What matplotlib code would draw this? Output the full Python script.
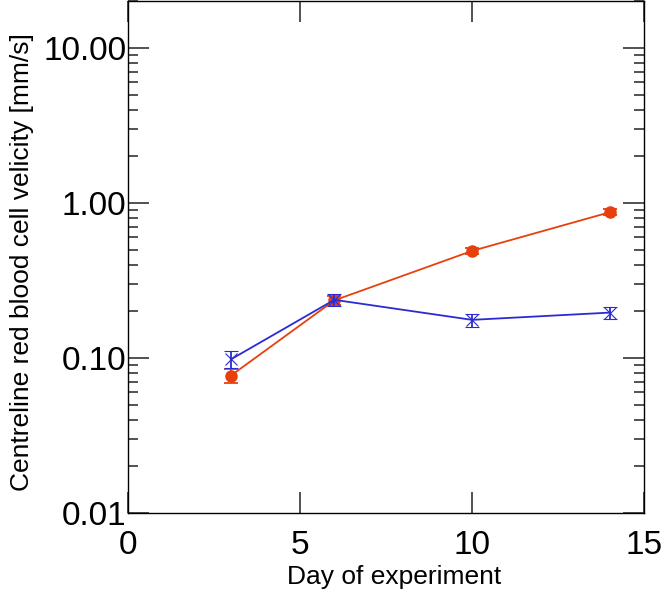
import numpy as np
import matplotlib
matplotlib.use("Agg")
import matplotlib.pyplot as plt
from matplotlib.ticker import FormatStrFormatter, LogLocator, NullFormatter

plt.rcParams["font.family"] = ["Liberation Sans", "DejaVu Sans"]

# Data
days = [3, 6, 10, 14]
red_vel = [0.077, 0.235, 0.49, 0.87]
red_err = [0.008, 0.015, 0.025, 0.04]
blue_vel = [0.098, 0.237, 0.176, 0.196]
blue_err = [0.012, 0.022, 0.017, 0.017]

RED = "#e8400c"
BLUE = "#2b2bd4"

fig = plt.figure(figsize=(6.62, 5.93), dpi=100)
ax = fig.add_axes([0.193, 0.135, 0.78, 0.863])

ax.errorbar(days, red_vel, yerr=red_err, color=RED, marker="o", ms=8,
            lw=1.3, capsize=5, elinewidth=1.3, capthick=1.3, zorder=3)
ax.errorbar(days, blue_vel, yerr=blue_err, color=BLUE, marker="x", ms=9,
            mew=0.8, lw=1.3, capsize=5, elinewidth=1.3, capthick=1.3, zorder=4)

ax.set_yscale("log")
ax.set_xlim(0, 15)
ax.set_ylim(0.01, 20)
ax.set_xticks([0, 5, 10, 15])
ax.set_yticks([0.01, 0.1, 1, 10])
ax.yaxis.set_major_formatter(FormatStrFormatter("%.2f"))
ax.yaxis.set_minor_locator(LogLocator(base=10, subs=np.arange(2, 10)))
ax.yaxis.set_minor_formatter(NullFormatter())

ax.tick_params(axis="both", which="major", direction="in", length=15, width=1.2,
               labelsize=24, top=True, right=True, color="#333333")
ax.tick_params(axis="y", which="minor", direction="in", length=7, width=1.2,
               right=True, color="#333333")
ax.tick_params(axis="y", which="major", pad=1)
ax.tick_params(axis="x", which="major", pad=12)

for s in ax.spines.values():
    s.set_linewidth(1.0)

ax.set_xlabel("Day of experiment", fontsize=19)
ax.set_ylabel("Centreline red blood cell velicity [mm/s]", fontsize=19)
ax.xaxis.set_label_coords(0.516, -0.102)
ax.yaxis.set_label_coords(-0.182, 0.49)

fig.savefig("out.png", dpi=100)
